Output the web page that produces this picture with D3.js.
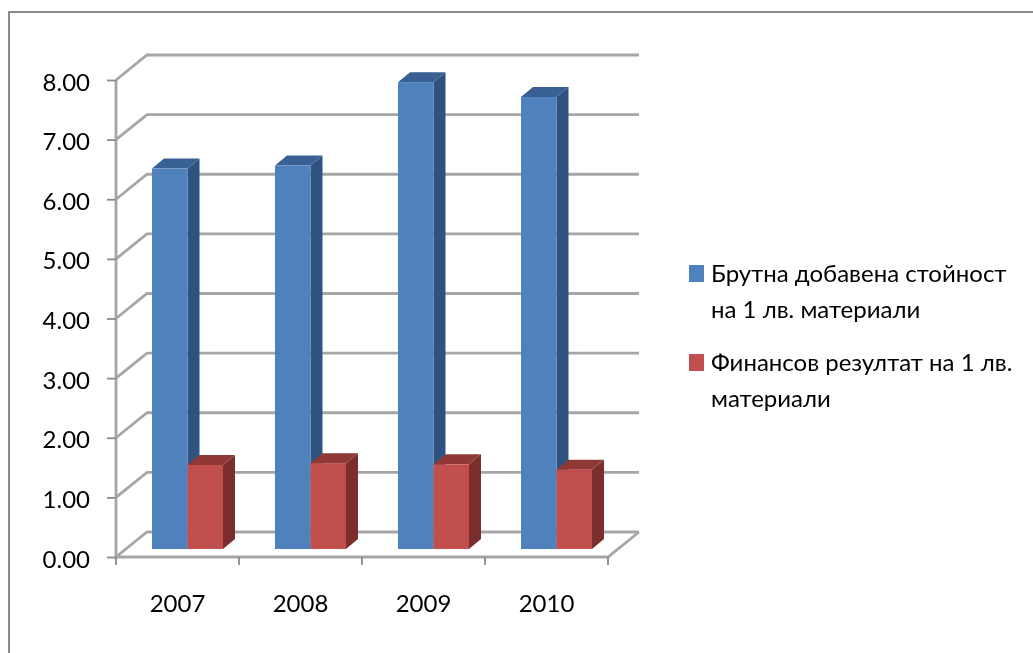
<!DOCTYPE html>
<html>
<head>
<meta charset="utf-8">
<script src="https://d3js.org/d3.v7.min.js"></script>
<style>
  html, body { margin: 0; padding: 0; background: #fff; overflow: hidden; }
  svg { display: block; }
  text { font-family: Lato, "Noto Sans", sans-serif; fill: #000; }
</style>
</head>
<body>
<script>
const years = ['2007', '2008', '2009', '2010'];
const grossValue = [6.38, 6.43, 7.83, 7.58];
const financialResult = [1.41, 1.44, 1.42, 1.33];
const yTicks = [0, 1, 2, 3, 4, 5, 6, 7, 8];
const seriesNames = ['gross', 'result'];
const legendLines = [
    ['Брутна добавена стойност', 'на 1 лв. материали'],
    ['Финансов резултат на 1 лв.', 'материали']
];
const seriesValues = { gross: grossValue, result: financialResult };

const colors = {
    gross: { front: '#4f81bd', side: '#2f5380', top: '#376092' },
    result: { front: '#c0504d', side: '#7c2f2d', top: '#8f3835' }
};

const width = 1033, height = 653;
const wallDx = 31, wallDy = -25;      // offset of back wall from front of floor
const barDx = 12, barDy = -10;        // depth of one bar
const floorInset = { x: 0, y: -8 };   // bars stand a little behind the front edge

const svg = d3.select('body').append('svg')
    .attr('width', width)
    .attr('height', height);

const defs = svg.append('defs');
defs.append('filter').attr('id', 'soft')
    .append('feGaussianBlur').attr('stdDeviation', 0.5);

// outer frame: only top and left edges are in the picture
svg.append('path')
    .attr('d', d3.line()([[9, height], [9, 12], [width, 12]]))
    .attr('fill', 'none')
    .attr('stroke', '#8a8a8a')
    .attr('stroke-width', 2);

const x = d3.scaleBand().domain(years).range([116, 608]);
const inner = d3.scaleBand().domain(seriesNames).range([36, 107]);
const y = d3.scaleLinear().domain([0, 8]).range([557, 80]);

const chart = svg.append('g').attr('filter', 'url(#soft)');
const gridColor = '#a6a6a6';

// back wall gridlines and their run along the side wall
const grid = chart.append('g').attr('fill', 'none').attr('stroke', gridColor).attr('stroke-width', 2.8);
grid.selectAll('path')
    .data(yTicks)
    .enter()
    .append('path')
    .attr('d', d => d3.line()([
        [x.range()[0], y(d)],
        [x.range()[0] + wallDx, y(d) + wallDy],
        [x.range()[1] + wallDx, y(d) + wallDy]
    ]));

// floor right edge, front edge and vertical axis
const axes = chart.append('g').attr('fill', 'none').attr('stroke', gridColor).attr('stroke-width', 2.8);
axes.append('path').attr('d', d3.line()([
    [x.range()[1] + wallDx, y(0) + wallDy],
    [x.range()[1], y(0)],
    [x.range()[0], y(0)],
    [x.range()[0], y(8)]
]));

// axis ticks with the library's axes
const yAxis = chart.append('g')
    .attr('transform', `translate(${x.range()[0]},0)`)
    .call(d3.axisLeft(y).tickValues(yTicks).tickSize(9).tickPadding(17).tickFormat(d3.format('.2f')));
const xAxis = chart.append('g')
    .attr('transform', `translate(0,${y(0)})`)
    .call(d3.axisBottom(x).tickSize(0).tickPadding(38));

yAxis.select('.domain').remove();
xAxis.select('.domain').remove();
yAxis.selectAll('line').attr('stroke', '#8a8a8a').attr('stroke-width', 1.8);
yAxis.selectAll('text').style('font-size', '24px').attr('dy', '0.42em');
xAxis.selectAll('text').style('font-size', '24px');

// category ticks sit on the band edges
chart.append('g')
    .selectAll('line')
    .data(years.concat('end'))
    .enter()
    .append('line')
    .attr('x1', (d, i) => x.range()[0] + i * x.step())
    .attr('x2', (d, i) => x.range()[0] + i * x.step())
    .attr('y1', y(0))
    .attr('y2', y(0) + 8)
    .attr('stroke', '#8a8a8a')
    .attr('stroke-width', 1.8);

// 3d bars
const barWidth = inner.bandwidth();
const bars = years.flatMap((year, i) => seriesNames.map(name => ({
    year: year,
    name: name,
    value: seriesValues[name][i]
})));

const barGroups = chart.append('g')
    .selectAll('g')
    .data(bars)
    .enter()
    .append('g')
    .attr('transform', d => `translate(${x(d.year) + inner(d.name)},${floorInset.y})`);

barGroups.append('path')
    .attr('fill', d => colors[d.name].side)
    .attr('d', d => d3.line()([
        [barWidth, y(d.value)],
        [barWidth + barDx, y(d.value) + barDy],
        [barWidth + barDx, y(0) + barDy],
        [barWidth, y(0)]
    ]) + 'Z');

barGroups.append('path')
    .attr('fill', d => colors[d.name].top)
    .attr('d', d => d3.line()([
        [0, y(d.value)],
        [barDx, y(d.value) + barDy],
        [barWidth + barDx, y(d.value) + barDy],
        [barWidth, y(d.value)]
    ]) + 'Z');

barGroups.append('rect')
    .attr('x', 0)
    .attr('y', d => y(d.value))
    .attr('width', barWidth)
    .attr('height', d => y(0) - y(d.value))
    .attr('fill', d => colors[d.name].front);

// legend
const legendY = [273.5, 309.5, 362.5, 398.5];
const legend = svg.append('g').attr('filter', 'url(#soft)');
legend.selectAll('rect')
    .data(seriesNames)
    .enter()
    .append('rect')
    .attr('x', 689)
    .attr('y', (d, i) => legendY[i * 2] - 8.5)
    .attr('width', 15)
    .attr('height', 17)
    .attr('fill', d => colors[d].front);

legend.selectAll('text')
    .data(legendLines.flat())
    .enter()
    .append('text')
    .attr('x', 711)
    .attr('y', (d, i) => legendY[i])
    .attr('dy', '0.36em')
    .style('font-size', '24px')
    .text(d => d);
</script>
</body>
</html>
